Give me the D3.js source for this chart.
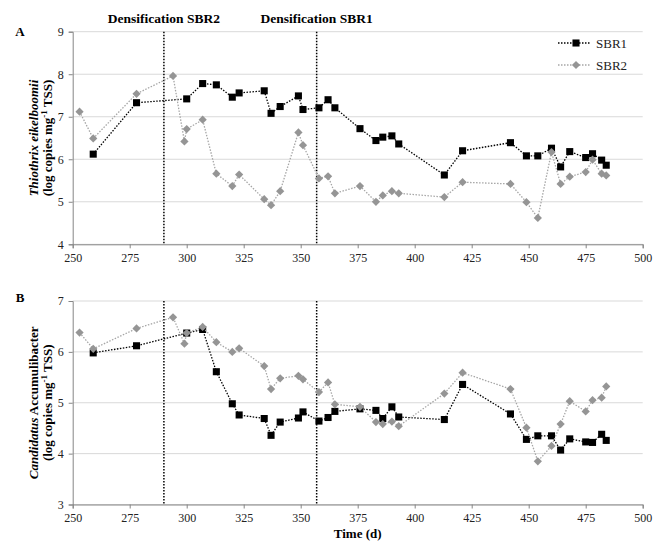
<!DOCTYPE html>
<html><head><meta charset="utf-8">
<script src="https://cdn.jsdelivr.net/npm/d3@7"></script>
<style>body{margin:0;background:#fff}svg{display:block}</style>
</head><body>
<script>
const daysSBR1 = [259,278,300,307,313,320,323,334,337,341,349,351,358,362,365,376,383,386,390,393,413,421,442,449,454,460,464,468,475,478,482,484];
const daysSBR2 = [253,259,278,294,299,300,307,313,320,323,334,337,341,349,351,358,362,365,376,383,386,390,393,413,421,442,449,454,460,464,468,475,478,482,484];
const thioSBR1 = [6.12,7.33,7.42,7.78,7.75,7.46,7.56,7.61,7.08,7.24,7.49,7.17,7.21,7.40,7.21,6.72,6.44,6.52,6.55,6.36,5.63,6.20,6.39,6.08,6.08,6.26,5.82,6.18,6.04,6.13,5.98,5.86];
const thioSBR2 = [7.12,6.49,7.54,7.96,6.42,6.71,6.93,5.66,5.37,5.64,5.06,4.92,5.25,6.63,6.33,5.55,5.60,5.20,5.37,5.00,5.15,5.25,5.20,5.11,5.46,5.42,4.99,4.62,6.17,5.42,5.59,5.70,5.99,5.66,5.62];
const accSBR1 = [5.98,6.12,6.37,6.44,5.61,4.98,4.76,4.69,4.36,4.62,4.70,4.82,4.64,4.71,4.83,4.88,4.85,4.69,4.92,4.72,4.67,5.36,4.78,4.28,4.35,4.35,4.07,4.29,4.23,4.22,4.38,4.26];
const accSBR2 = [6.38,6.06,6.46,6.68,6.16,6.37,6.49,6.19,6.00,6.07,5.72,5.27,5.48,5.53,5.46,5.21,5.40,4.97,4.92,4.62,4.58,4.63,4.54,5.18,5.59,5.27,4.51,3.85,4.15,4.58,5.03,4.83,5.05,5.10,5.32];
const xTicks = [250,275,300,325,350,375,400,425,450,475,500];
const yTicksA = [4,5,6,7,8,9];
const yTicksB = [3,4,5,6,7];
const densDays = [290, 357];
const densLabels = ["Densification SBR2", "Densification SBR1"];
const seriesNames = ["SBR1", "SBR2"];

const W = 654, H = 547;
const svg = d3.select("body").append("svg").attr("width", W).attr("height", H)
  .style("font-family", "'Liberation Serif','Times New Roman',serif");

const x = d3.scaleLinear().domain([250,500]).range([72.7,642.7]);
const yA = d3.scaleLinear().domain([4,9]).range([244.3,31.7]);
const yB = d3.scaleLinear().domain([3,7]).range([504.5,301]);

const black = "#000", grayLine = "#a6a6a6", grayMark = "#959595";
const sq = d3.symbol().type(d3.symbolSquare).size(50);
const dia = d3.symbol().type(d3.symbolSquare).size(34);
const diaT = " rotate(45)";

function panel(y, yTicks, s1, s2, title1, letter, letterY) {
  const g = svg.append("g");
  g.selectAll(".grid").data(yTicks).join("line")
    .attr("x1", x(250)).attr("x2", x(500))
    .attr("y1", d => y(d)).attr("y2", d => y(d))
    .attr("stroke", "#d9d9d9").attr("stroke-width", 1);
  const xa = g.append("g").attr("transform", `translate(0,${y.range()[0]})`)
    .call(d3.axisBottom(x).tickValues(xTicks).tickSize(4).tickPadding(5));
  xa.select(".domain").attr("stroke", "#868686");
  xa.selectAll(".tick line").attr("stroke", "#868686");
  xa.selectAll("text").attr("font-size", 12).attr("font-family", "'Liberation Serif',serif").attr("fill", "#222");
  const ya = g.append("g").attr("transform", `translate(${x(250)},0)`)
    .call(d3.axisLeft(y).tickValues(yTicks).tickSize(4).tickPadding(5).tickFormat(d3.format("d")));
  ya.select(".domain").attr("stroke", "#868686");
  ya.selectAll(".tick line").attr("stroke", "#868686");
  ya.selectAll("text").attr("font-size", 12).attr("font-family", "'Liberation Serif',serif").attr("fill", "#222");
  g.selectAll(".dens").data(densDays).join("line")
    .attr("x1", d => x(d)).attr("x2", d => x(d))
    .attr("y1", y.range()[1]).attr("y2", y.range()[0])
    .attr("stroke", black).attr("stroke-width", 1.5).attr("stroke-dasharray", "1.5,1.5");
  const line = d3.line().x(d => x(d[0])).y(d => y(d[1]));
  const d1 = daysSBR1.map((d,i) => [d, s1[i]]);
  const d2 = daysSBR2.map((d,i) => [d, s2[i]]);
  g.append("path").datum(d1).attr("d", line).attr("fill", "none")
    .attr("stroke", black).attr("stroke-width", 1.3).attr("stroke-dasharray", "1.5,1.5");
  g.selectAll(".m1").data(d1).join("path").attr("d", sq)
    .attr("transform", d => `translate(${x(d[0])},${y(d[1])})`).attr("fill", black);
  g.append("path").datum(d2).attr("d", line).attr("fill", "none")
    .attr("stroke", grayLine).attr("stroke-width", 1.3).attr("stroke-dasharray", "1.5,1.5");
  g.selectAll(".m2").data(d2).join("path").attr("d", dia)
    .attr("transform", d => `translate(${x(d[0])},${y(d[1])})` + diaT).attr("fill", grayMark);
  const cy = (y.range()[0] + y.range()[1]) / 2;
  const t = g.append("text").attr("transform", `translate(38,${cy}) rotate(-90)`)
    .attr("text-anchor", "middle").attr("font-size", 13).attr("font-weight", "bold");
  title1(t);
  g.append("text").attr("transform", `translate(52,${cy}) rotate(-90)`)
    .attr("text-anchor", "middle").attr("font-size", 13).attr("font-weight", "bold")
    .call(tt => {
      tt.append("tspan").text("(log copies mg");
      tt.append("tspan").text("-1").attr("font-size", 9).attr("dy", -5);
      tt.append("tspan").text(" TSS)").attr("dy", 5);
    });
  svg.append("text").attr("x", 20).attr("y", letterY).attr("text-anchor", "middle")
    .attr("font-size", 13).attr("font-weight", "bold").text(letter);
}

panel(yA, yTicksA, thioSBR1, thioSBR2, t => {
  t.append("tspan").attr("font-style", "italic").text("Thiothrix eikelboomii");
}, "A", 36);
panel(yB, yTicksB, accSBR1, accSBR2, t => {
  t.append("tspan").attr("font-style", "italic").text("Candidatus");
  t.append("tspan").text(" Accumulibacter");
}, "B", 302);

svg.selectAll(".dl").data(densLabels).join("text")
  .attr("x", (d,i) => x(densDays[i])).attr("y", 23)
  .attr("text-anchor", "middle").attr("font-size", 13.5).attr("font-weight", "bold").text(d => d);

svg.append("text").attr("x", (x(250)+x(500))/2).attr("y", 538).attr("text-anchor", "middle")
  .attr("font-size", 13).attr("font-weight", "bold").text("Time (d)");

const leg = svg.append("g");
seriesNames.forEach((n, i) => {
  const ly = 43 + i * 22;
  leg.append("line").attr("x1", 558).attr("x2", 590).attr("y1", ly).attr("y2", ly)
    .attr("stroke", i ? grayLine : black).attr("stroke-width", 1.3).attr("stroke-dasharray", "1.5,1.5");
  leg.append("path").attr("d", i ? dia : sq)
    .attr("transform", `translate(576,${ly})` + (i ? diaT : ""))
    .attr("fill", i ? grayMark : black);
  leg.append("text").attr("x", 596).attr("y", ly + 4.5).attr("font-size", 13).attr("fill", "#222").text(n);
});
</script>
</body></html>
